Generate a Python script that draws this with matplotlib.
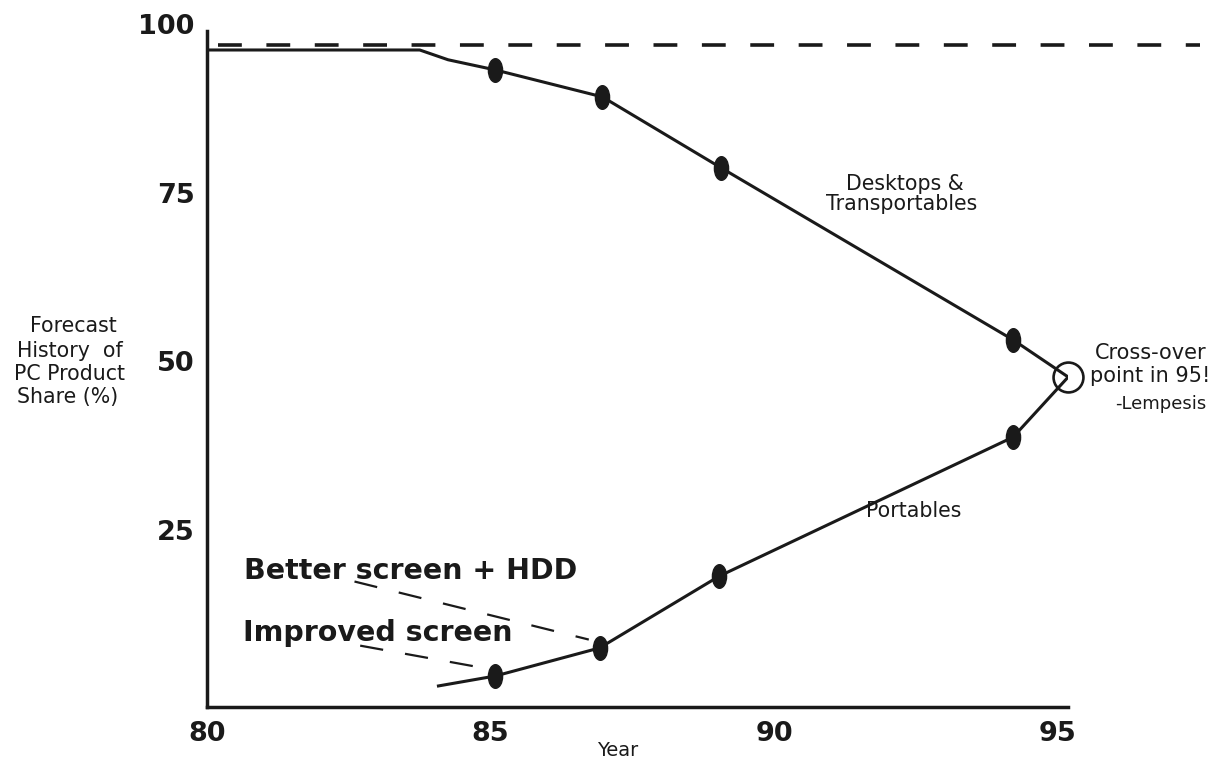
import matplotlib
matplotlib.use("Agg")
import matplotlib.pyplot as plt
from matplotlib.markers import MarkerStyle
from matplotlib.transforms import Affine2D

plt.rcParams['font.family'] = ['DejaVu Sans']

# Data
desk_years = [80.05, 83.75, 84.25, 85.08, 86.97, 89.06, 94.21, 95.18]
desk_share = [96.15, 96.15, 94.7, 93.2, 89.2, 78.7, 53.2, 47.7]
desk_mark_years = [85.08, 86.97, 89.06, 94.21]
desk_mark_share = [93.2, 89.2, 78.7, 53.2]

port_years = [84.08, 85.08, 86.92, 89.03, 94.21, 95.18]
port_share = [1.93, 3.4, 7.56, 18.2, 38.8, 47.7]
port_mark_years = [85.08, 86.92, 89.03, 94.21]
port_mark_share = [3.4, 7.56, 18.2, 38.8]

ceiling_years = [80.2, 97.5]
ceiling_share = [96.9, 96.9]

cross_year = [95.18]
cross_share = [47.7]

better_line_x = [82.6, 86.73]
better_line_y = [17.4, 8.8]
improved_line_x = [82.7, 84.8]
improved_line_y = [7.9, 4.7]

x_ticks = [80, 85, 90, 95]
y_ticks = [25, 50, 75, 100]

W, H = 1216, 766
fig = plt.figure(figsize=(W / 100, H / 100), dpi=100)
ax = fig.add_axes([207 / W, 1 - 707 / H, (1068 - 207) / W, (707 - 24) / H])
ax.set_xlim(80.053, 95.177)
ax.set_ylim(-1.19, 100)

for s in ['top', 'right']:
    ax.spines[s].set_visible(False)
for s in ['left', 'bottom']:
    ax.spines[s].set_linewidth(2.5)
    ax.spines[s].set_color('#1a1a1a')
ax.spines['left'].set_bounds(-1.19, 98.96)

ax.set_xticks(x_ticks)
ax.set_yticks(y_ticks)
ax.tick_params(length=0, labelsize=19.5, colors='#1a1a1a')
ax.tick_params(axis='x', pad=10)
ax.tick_params(axis='y', pad=9)
for lab in ax.get_xticklabels() + ax.get_yticklabels():
    lab.set_fontweight('bold')

lc = '#1a1a1a'
ax.plot(ceiling_years, ceiling_share, color=lc, lw=2.6, dashes=(6.6, 6.8), clip_on=False)
ax.plot(desk_years, desk_share, color=lc, lw=2.2)
ax.plot(port_years, port_share, color=lc, lw=2.2)

ell = MarkerStyle('o', transform=Affine2D().scale(0.6, 1.0))
ax.plot(desk_mark_years, desk_mark_share, ls='none', marker=ell, ms=17, color=lc)
ax.plot(port_mark_years, port_mark_share, ls='none', marker=ell, ms=17, color=lc)

ax.plot(cross_year, cross_share, ls='none', marker='o', ms=21.5, mfc='none',
        mec=lc, mew=1.9, clip_on=False)

ax.plot(better_line_x, better_line_y, color=lc, lw=1.6, dashes=(10.5, 10))
ax.plot(improved_line_x, improved_line_y, color=lc, lw=1.6, dashes=(10.5, 10))


def ptext(x, y, s, **kw):
    """Place text at reference pixel coordinates (top-left origin)."""
    fig.text(x / W, 1 - y / H, s, color=lc, **kw)


ptext(244, 579, 'Better screen + HDD', fontsize=20.5, fontweight='bold',
      ha='left', va='baseline')
ptext(243, 641, 'Improved screen', fontsize=20.5, fontweight='bold',
      ha='left', va='baseline')

ptext(905, 190, 'Desktops &', fontsize=14.8, ha='center', va='baseline')
ptext(902, 210, 'Transportables', fontsize=14.8, ha='center', va='baseline')
ptext(914, 517, 'Portables', fontsize=14.8, ha='center', va='baseline')

ptext(1151, 359, 'Cross-over', fontsize=15, ha='center', va='baseline')
ptext(1150, 382, 'point in 95!', fontsize=15, ha='center', va='baseline')
ptext(1161, 409, '-Lempesis', fontsize=13, ha='center', va='baseline')

ptext(73, 332, 'Forecast', fontsize=14.8, ha='center', va='baseline')
ptext(70, 357, 'History  of', fontsize=14.8, ha='center', va='baseline')
ptext(70, 380, 'PC Product', fontsize=14.8, ha='center', va='baseline')
ptext(68, 403, 'Share (%)', fontsize=14.8, ha='center', va='baseline')

ptext(618, 756, 'Year', fontsize=14, ha='center', va='baseline')

fig.savefig('out.png', dpi=100, facecolor='white')
